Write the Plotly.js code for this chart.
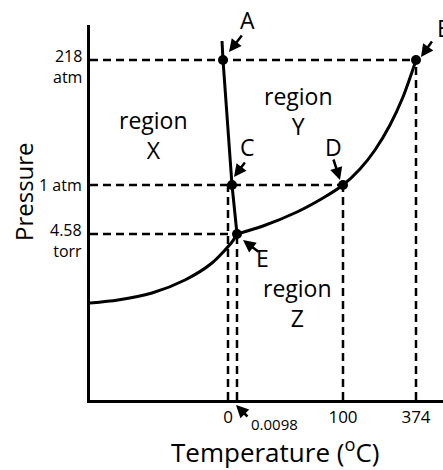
<!DOCTYPE html>
<html>
<head>
<meta charset="utf-8">
<script src="https://cdn.plot.ly/plotly-3.0.1.min.js"></script>
<style>html,body{margin:0;padding:0;background:#fff;}#chart{width:443px;height:470px;}</style>
</head>
<body>
<div id="chart"></div>
<script>
// Schematic phase diagram of water (positions in schematic units, not to scale)
const tempTickVals = [138, 147, 253, 326];
const tempTickText = ['0', '0.0098', '100', '374'];
const tempLineTop = [215, 166, 215, 340];

const pressTickVals = [340, 215, 166];
const pressTickText = ['218<br>atm', '1 atm', '4.58<br>torr'];
const pressLineEnd = [326, 253, 147];

const pointNames = ['A', 'B', 'C', 'D', 'E'];
const pointX = [133, 326, 142, 253, 147];
const pointY = [340, 340, 215, 215, 166];

// melting (solid-liquid) line
const fusionX = [132, 133, 142, 147];
const fusionY = [359, 340, 215, 166];

// sublimation curve (to triple point) and vaporization curve (to critical point)
const sublimX = [0, 28, 62, 95, 122, 142, 147];
const sublimY = [97, 100, 107, 120, 137, 158, 166];
const vaporX = [147, 173, 207, 233, 253, 270, 285, 300, 313, 322, 326];
const vaporY = [166, 174, 188, 202, 215, 231, 250, 275, 303, 328, 340];

// point label positions and arrows
const labelX = [157, 354, 157, 243, 172];
const labelY = [380, 372, 253, 253, 142];
const arrowTailX = [153, 343, 156, 243, 170];
const arrowTailY = [366, 360, 239, 242, 147];
const arrowHeadX = [139, 331, 144, 250, 153];
const arrowHeadY = [348, 343, 223, 220, 160];

const regionNames = ['region<br>X', 'region<br>Y', 'region<br>Z'];
const regionX = [63, 208, 207];
const regionY = [265, 289, 97];

const FONT = 'Open Sans, Noto Sans, sans-serif';
const XR = 353, YR = 375;
const px = v => v / XR, py = v => v / YR;
const traces = [];
const dashStyle = {color: '#000', width: 2.5, dash: '8px,5px'};

tempTickVals.forEach((x, i) => {
  traces.push({x: [x, x], y: [0, tempLineTop[i]], mode: 'lines', line: dashStyle, hoverinfo: 'skip', showlegend: false});
});
pressTickVals.forEach((y, i) => {
  traces.push({x: [0, pressLineEnd[i]], y: [y, y], mode: 'lines', line: dashStyle, hoverinfo: 'skip', showlegend: false});
});
traces.push({x: sublimX, y: sublimY, mode: 'lines', line: {color: '#000', width: 3, shape: 'spline', smoothing: 0.8}, showlegend: false});
traces.push({x: vaporX, y: vaporY, mode: 'lines', line: {color: '#000', width: 3, shape: 'spline', smoothing: 0.8}, showlegend: false});
traces.push({x: fusionX, y: fusionY, mode: 'lines', line: {color: '#000', width: 3}, showlegend: false});
traces.push({x: pointX, y: pointY, mode: 'markers', marker: {color: '#000', size: 10}, text: pointNames, showlegend: false, cliponaxis: false});

const annotations = [];
const txt = (x, y, text, size, extra) => Object.assign({x: px(x), y: py(y), xref: 'paper', yref: 'paper',
  text: text, showarrow: false, xanchor: 'center', yanchor: 'middle',
  font: {family: FONT, size: size, color: '#000'}}, extra || {});
const arrow = (hx, hy, tx, ty) => ({x: px(hx), y: py(hy), xref: 'paper', yref: 'paper',
  xanchor: 'center', yanchor: 'middle',
  ax: tx - hx, ay: -(ty - hy), text: '', showarrow: true, arrowhead: 2, arrowsize: 1,
  arrowwidth: 2.5, arrowcolor: '#000'});
pointNames.forEach((n, i) => {
  annotations.push(txt(labelX[i], labelY[i], n, 23));
  annotations.push(arrow(arrowHeadX[i], arrowHeadY[i], arrowTailX[i], arrowTailY[i]));
});
regionNames.forEach((n, i) => {
  annotations.push(txt(regionX[i], regionY[i], n, 23));
});
// pressure tick labels (first line roughly centred on the level)
pressTickVals.forEach((v, i) => {
  const twoLine = pressTickText[i].indexOf('<br>') >= 0;
  annotations.push(txt(0, v, pressTickText[i], 16,
    {xanchor: 'right', align: 'right', xshift: -6, yshift: twoLine ? -6 : 0}));
});
// 0.0098 label with arrow below the axis
annotations.push(txt(tempTickVals[1] + 37, -24, tempTickText[1], 15));
annotations.push(arrow(tempTickVals[1] - 1, -5, tempTickVals[1] + 12, -18));
// axis titles
annotations.push(txt(-67, 208, 'Pressure', 24, {textangle: -90}));
annotations.push(txt(185, -51, 'Temperature (<sup>o</sup>C)', 26));

const layout = {
  width: 443, height: 470,
  margin: {l: 90, r: 0, t: 25, b: 70},
  paper_bgcolor: '#fff', plot_bgcolor: '#fff',
  showlegend: false,
  xaxis: {range: [0, XR], showgrid: false, zeroline: false, showline: true, linecolor: '#000', linewidth: 3,
    tickmode: 'array', tickvals: [tempTickVals[0], tempTickVals[2], tempTickVals[3]],
    ticktext: [tempTickText[0], tempTickText[2], tempTickText[3]], ticks: '',
    tickfont: {family: FONT, size: 17, color: '#000'}, fixedrange: true},
  yaxis: {range: [0, YR], showgrid: false, zeroline: false, showline: true, linecolor: '#000', linewidth: 3,
    tickmode: 'array', tickvals: pressTickVals, showticklabels: false, ticks: '', fixedrange: true},
  annotations: annotations
};

Plotly.newPlot('chart', traces, layout, {displayModeBar: false, staticPlot: true});
</script>
</body>
</html>
